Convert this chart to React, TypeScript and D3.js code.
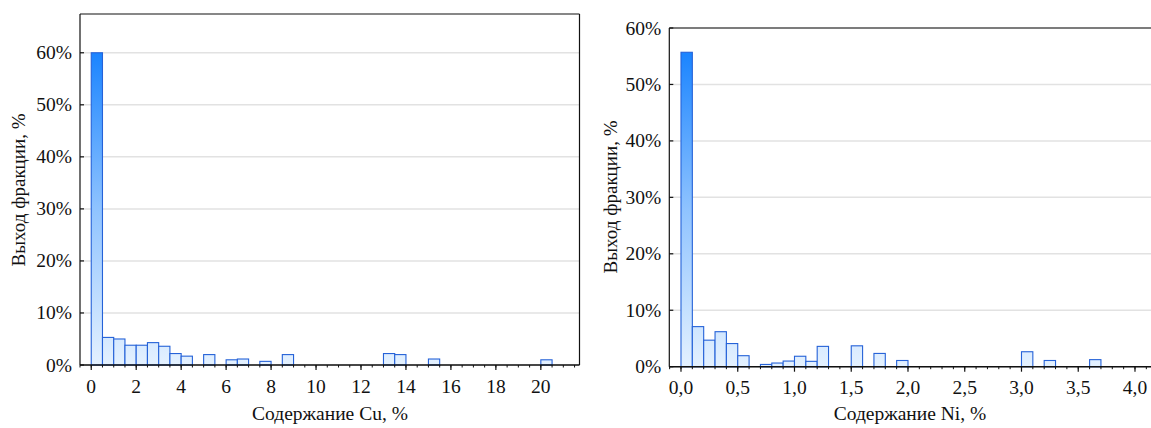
import React from "react";
import * as d3 from "d3";

// Cu histogram, bins of 0.5 %
const cuBinStart = [0, 0.5, 1, 1.5, 2, 2.5, 3, 3.5, 4, 5, 6, 6.5, 7.5, 8.5, 13, 13.5, 15, 20];
const cuShare = [60, 5.3, 5.0, 3.8, 3.8, 4.3, 3.6, 2.2, 1.7, 2.0, 1.0, 1.15, 0.7, 2.0, 2.2, 2.0, 1.15, 1.0];

// Ni histogram, bins of 0.1 %
const niBinStart = [0, 0.1, 0.2, 0.3, 0.4, 0.5, 0.7, 0.8, 0.9, 1.0, 1.1, 1.2, 1.5, 1.7, 1.9, 3.0, 3.2, 3.6];
const niShare = [55.7, 7.1, 4.7, 6.2, 4.1, 1.95, 0.4, 0.65, 1.0, 1.85, 0.95, 3.6, 3.7, 2.35, 1.1, 2.65, 1.1, 1.25];

const yTicks = [0, 10, 20, 30, 40, 50, 60];
const cuXTicks = [0, 2, 4, 6, 8, 10, 12, 14, 16, 18, 20];
const niXTicks = [0, 0.5, 1, 1.5, 2, 2.5, 3, 3.5, 4];

const yTitle = "Выход фракции, %";
const cuTitle = "Содержание Cu, %";
const niTitle = "Содержание Ni, %";

const txt = { fontFamily: '"Liberation Serif"', fill: "#111" };

type HistProps = {
  id: string;
  starts: number[];
  values: number[];
  binW: number;
  xDomain: [number, number];
  xRange: [number, number];
  yDomain: [number, number];
  yRange: [number, number];
  xTicks: number[];
  minorStep: number;
  fmtX: (v: number) => string;
  xTitle: string;
  xTitleX: number;
  yTitleX: number;
  yTitleY: number;
  frameRight: boolean;
};

function Histogram(p: HistProps) {
  const x = d3.scaleLinear().domain(p.xDomain).range(p.xRange);
  const y = d3.scaleLinear().domain(p.yDomain).range(p.yRange);
  const [x0, x1] = p.xRange;
  const [yb, yt] = p.yRange;
  const gmax = d3.max(p.values) as number;

  const minor = d3.range(
    Math.ceil(p.xDomain[0] / p.minorStep) * p.minorStep,
    p.xDomain[1] + 1e-9,
    p.minorStep
  );

  return (
    <g>
      <defs>
        <linearGradient id={p.id} gradientUnits="userSpaceOnUse" x1={0} x2={0} y1={y(0)} y2={y(gmax)}>
          <stop offset="0" stopColor="#e4f1ff" />
          <stop offset="0.5" stopColor="#8fc3ff" />
          <stop offset="1" stopColor="#1a84ff" />
        </linearGradient>
      </defs>

      {yTicks.map((t) => (
        <line key={"g" + t} x1={x0} x2={x1} y1={y(t)} y2={y(t)} stroke="#e2e2e2" strokeWidth={1.5} />
      ))}

      {p.starts.map((s, i) => (
        <rect
          key={"b" + i}
          x={x(s)}
          y={y(p.values[i])}
          width={x(s + p.binW) - x(s)}
          height={y(0) - y(p.values[i])}
          fill={`url(#${p.id})`}
          stroke="#2562d8"
          strokeWidth={1.1}
        />
      ))}

      {/* frame */}
      <line x1={x0} x2={x1} y1={yt} y2={yt} stroke="#111" strokeWidth={1.2} />
      <line x1={x0} x2={x0} y1={yt} y2={yb} stroke="#111" strokeWidth={1.2} />
      {p.frameRight && <line x1={x1} x2={x1} y1={yt} y2={yb} stroke="#111" strokeWidth={1.2} />}
      <line x1={x0} x2={x1} y1={yb} y2={yb} stroke="#111" strokeWidth={1.5} />

      {yTicks.map((t) => (
        <g key={"y" + t}>
          <line x1={x0} x2={x0 + 4} y1={y(t)} y2={y(t)} stroke="#111" strokeWidth={1.2} />
          <text x={x0 - 8} y={y(t) + 6.5} textAnchor="end" style={{ ...txt, fontSize: 19.5 }}>
            {t + "%"}
          </text>
        </g>
      ))}

      {minor.map((t, i) => (
        <line key={"m" + i} x1={x(t)} x2={x(t)} y1={yb} y2={yb + 2.5} stroke="#111" strokeWidth={1} />
      ))}
      {p.xTicks.map((t) => (
        <g key={"x" + t}>
          <line x1={x(t)} x2={x(t)} y1={yb} y2={yb + 5} stroke="#111" strokeWidth={1.2} />
          <text x={x(t)} y={yb + 27.5} textAnchor="middle" style={{ ...txt, fontSize: 19.5 }}>
            {p.fmtX(t)}
          </text>
        </g>
      ))}

      <text x={p.xTitleX} y={420} textAnchor="middle" style={{ ...txt, fontSize: 19.5 }}>
        {p.xTitle}
      </text>
      <text
        transform={`translate(${p.yTitleX},${p.yTitleY}) rotate(-90)`}
        textAnchor="middle"
        style={{ ...txt, fontSize: 19 }}
      >
        {yTitle}
      </text>
    </g>
  );
}

export default function App() {
  const fmtNi = (v: number) => d3.format(".1f")(v).replace(".", ",");
  return (
    <svg width={1151} height={428} style={{ position: "absolute", left: 0, top: 0, background: "#fff" }}>
      <Histogram
        id="gCu"
        starts={cuBinStart}
        values={cuShare}
        binW={0.5}
        xDomain={[-0.5, 21.72]}
        xRange={[80, 579.5]}
        yDomain={[0, 67.45]}
        yRange={[365, 14]}
        xTicks={cuXTicks}
        minorStep={0.5}
        fmtX={(v) => String(v)}
        xTitle={cuTitle}
        xTitleX={330}
        yTitleX={25}
        yTitleY={190}
        frameRight={true}
      />
      <Histogram
        id="gNi"
        starts={niBinStart}
        values={niShare}
        binW={0.1}
        xDomain={[-0.103, 4.2]}
        xRange={[669.3, 669.3 + 4.303 * 113.5]}
        yDomain={[0, 60]}
        yRange={[366.7, 28]}
        xTicks={niXTicks}
        minorStep={0.1}
        fmtX={fmtNi}
        xTitle={niTitle}
        xTitleX={910}
        yTitleX={617}
        yTitleY={197}
        frameRight={false}
      />
    </svg>
  );
}
